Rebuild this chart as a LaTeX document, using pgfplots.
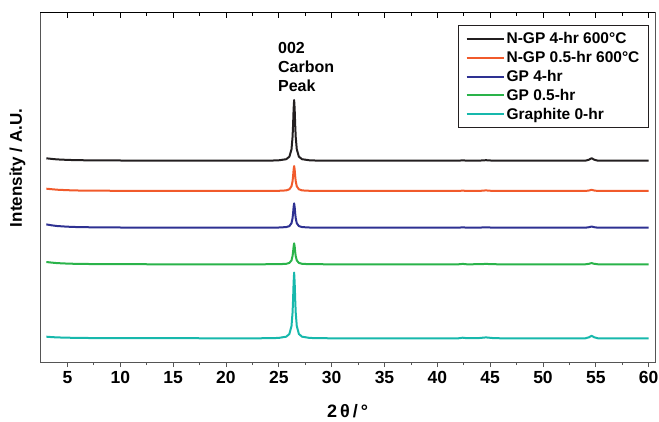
\documentclass[border=0pt]{standalone}
\usepackage{fontspec}
\setmainfont{Liberation Sans}
\usepackage{pgfplots}
\pgfplotsset{compat=1.18}

\definecolor{cBlack}{RGB}{35,31,32}
\definecolor{cOrange}{RGB}{241,90,43}
\definecolor{cBlue}{RGB}{46,49,146}
\definecolor{cGreen}{RGB}{42,179,74}
\definecolor{cTeal}{RGB}{23,184,172}
\definecolor{cAxis}{RGB}{85,85,85}

\begin{document}
\begin{tikzpicture}[x=1pt,y=1pt]
\useasboundingbox (0,0) rectangle (659,421);
\begin{axis}[
  at={(40pt,59pt)}, anchor=south west,
  scale only axis, width=615pt, height=349.3pt,
  xmin=2.4, xmax=60.6, ymin=0, ymax=349.3,
  axis line style={cAxis, line width=0.9pt},
  xtick={5,10,...,60}, minor x tick num=1,
  xtick pos=bottom, ytick=\empty,
  tick align=outside,
  major tick length=5pt, minor tick length=3pt,
  every tick/.style={cAxis, line width=0.8pt},
  /pgf/number format/assume math mode=true,
  xticklabel style={font=\bfseries\fontsize{17.5}{17.5}\selectfont, yshift=-1pt},
  legend style={at={(0.680,0.965)}, anchor=north west,
    draw=cBlack, line width=0.8pt, inner xsep=7pt, inner ysep=5pt,
    font=\bfseries\fontsize{15.5}{16}\selectfont, row sep=2.2pt},
  legend cell align=left,
  legend image code/.code={\draw[#1, line width=2pt] (0pt,0pt) -- (37pt,0pt);},
  every axis plot/.append style={line width=2pt, line join=round},
  clip=false,
]
% N-GP 4-hr 600 C
\addplot[cBlack] coordinates {
(3,203.7) (3.5,203.1) (4,202.6) (5,202.1) (6,201.8) (8,201.6) (10,201.5) (15,201.4)
(20,201.3) (23,201.3) (24.5,201.5) (25.0,201.7) (25.7,202.8) (26.0,205.3) (26.2,212.7)
(26.3,225.0) (26.35,237.1) (26.4,252.9) (26.45,262.0) (26.5,252.9) (26.55,237.1)
(26.6,225.0) (26.7,212.7) (26.9,205.3) (27.2,202.8) (27.9,201.7) (28.4,201.5)
(30,201.3) (35,201.3) (42,201.3) (42.4,201.7) (42.8,201.3) (44,201.4) (44.6,201.8)
(45.2,201.4) (46,201.3) (50,201.3) (54,201.3) (54.35,202.3) (54.6,203.8) (54.85,202.3)
(55.2,201.3) (58,201.3) (60,201.3)};
\addlegendentry{N-GP 4-hr 600°C}
% N-GP 0.5-hr 600 C
\addplot[cOrange] coordinates {
(3,173.3) (3.5,172.8) (4,172.3) (5,171.8) (6,171.5) (8,171.3) (10,171.2) (15,171.1)
(20,171.0) (23,171.0) (24.5,171.1) (25.0,171.2) (25.7,171.6) (26.0,172.7) (26.2,175.7)
(26.3,180.8) (26.35,185.8) (26.4,192.3) (26.45,196.0) (26.5,192.3) (26.55,185.8)
(26.6,180.8) (26.7,175.7) (26.9,172.7) (27.2,171.6) (27.9,171.2) (28.4,171.1)
(30,171.0) (35,171.0) (42,171.0) (42.4,171.4) (42.8,171.0) (44,171.1) (44.6,171.6)
(45.2,171.1) (46,171.0) (50,171.0) (54,171.0) (54.35,171.5) (54.6,172.2) (54.85,171.5)
(55.2,171.0) (58,171.0) (60,171.0)};
\addlegendentry{N-GP 0.5-hr 600°C}
% GP 4-hr
\addplot[cBlue] coordinates {
(3,137.6) (3.5,136.7) (4,136.0) (5,135.3) (6,134.9) (8,134.6) (10,134.5) (15,134.4)
(20,134.3) (23,134.3) (24.5,134.4) (25.0,134.5) (25.7,134.9) (26.0,135.9) (26.2,138.8)
(26.3,143.8) (26.35,148.6) (26.4,155.0) (26.45,158.6) (26.5,155.0) (26.55,148.6)
(26.6,143.8) (26.7,138.8) (26.9,135.9) (27.2,134.9) (27.9,134.5) (28.4,134.4)
(30,134.3) (35,134.3) (42,134.3) (42.4,134.7) (42.8,134.3) (44,134.4) (44.6,134.7)
(45.2,134.4) (46,134.3) (50,134.3) (54,134.3) (54.35,134.8) (54.6,135.5) (54.85,134.8)
(55.2,134.3) (58,134.3) (60,134.3)};
\addlegendentry{GP 4-hr}
% GP 0.5-hr
\addplot[cGreen] coordinates {
(3,100.0) (3.5,99.4) (4,98.9) (5,98.4) (6,98.1) (8,97.9) (10,97.8) (15,97.7)
(20,97.7) (23,97.7) (24.5,97.8) (25.0,97.8) (25.7,98.2) (26.0,99.1) (26.2,101.6)
(26.3,105.9) (26.35,110.1) (26.4,115.6) (26.45,118.7) (26.5,115.6) (26.55,110.1)
(26.6,105.9) (26.7,101.6) (26.9,99.1) (27.2,98.2) (27.9,97.8) (28.4,97.8)
(30,97.7) (35,97.7) (42,97.7) (42.4,98.1) (42.8,97.7) (44,97.8) (44.6,98.1)
(45.2,97.8) (46,97.7) (50,97.7) (54,97.7) (54.35,98.2) (54.6,98.9) (54.85,98.2)
(55.2,97.7) (58,97.7) (60,97.7)};
\addlegendentry{GP 0.5-hr}
% Graphite 0-hr
\addplot[cTeal] coordinates {
(3,25.3) (3.5,24.9) (4,24.6) (5,24.3) (6,24.1) (8,23.9) (10,23.8) (15,23.8)
(20,23.7) (23,23.7) (24.5,23.9) (25.0,24.1) (25.7,25.3) (26.0,28.0) (26.2,36.0)
(26.3,49.3) (26.35,62.5) (26.4,79.5) (26.45,89.4) (26.5,79.5) (26.55,62.5)
(26.6,49.3) (26.7,36.0) (26.9,28.0) (27.2,25.3) (27.9,24.1) (28.4,23.9)
(30,23.7) (35,23.7) (42,23.7) (42.4,24.3) (42.8,23.8) (44,24.0) (44.6,24.6)
(45.2,24.0) (46,23.7) (50,23.7) (54,23.7) (54.35,24.7) (54.6,26.2) (54.85,24.7)
(55.2,23.7) (58,23.7) (60,23.7)};
\addlegendentry{Graphite 0-hr}
\node[anchor=north west, align=left, inner sep=0pt,
  font=\bfseries\fontsize{16}{19}\selectfont]
  at (axis cs:24.92,320) {002\\Carbon\\Peak};
\end{axis}
% top edge with inward ticks
\begin{axis}[
  at={(40pt,59pt)}, anchor=south west,
  scale only axis, width=615pt, height=349.3pt,
  xmin=2.4, xmax=60.6, ymin=0, ymax=349.3,
  axis x line*=top, hide y axis,
  axis line style={black, line width=0.9pt},
  xtick={5,10,...,60}, minor x tick num=1, xticklabels={},
  tick align=inside,
  major tick length=5pt, minor tick length=3pt,
  every tick/.style={black, line width=0.8pt},
]
\end{axis}
\node[font=\bfseries\fontsize{18}{18}\selectfont] at (347.5,10) {2\,θ\,/\,°};
\node[rotate=90, font=\bfseries\fontsize{17}{17}\selectfont] at (17.5,253) {Intensity / A.U.};
\end{tikzpicture}
\end{document}
